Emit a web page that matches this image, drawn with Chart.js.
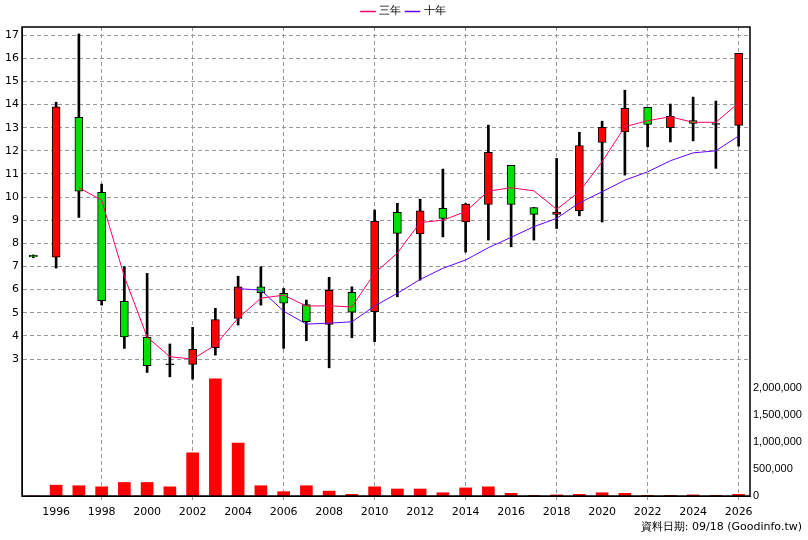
<!DOCTYPE html>
<html><head><meta charset="utf-8">
<script src="https://cdn.jsdelivr.net/npm/chart.js@4/dist/chart.umd.min.js"></script>
<style>
body{margin:0;background:#fff;font-family:"DejaVu Sans",sans-serif}
#wrap{position:relative;width:808px;height:540px}
#foot{position:absolute;right:6px;top:519px;font-size:11px;color:#000}
</style></head><body>
<div id="wrap"><canvas id="c" width="808" height="540"></canvas><div id="foot">資料日期: 09/18 (Goodinfo.tw)</div></div>
<script>
const years = ['1995','1996','1997','1998','1999','2000','2001','2002','2003','2004','2005','2006','2007','2008','2009','2010','2011','2012','2013','2014','2015','2016','2017','2018','2019','2020','2021','2022','2023','2024','2025','2026'];
const openP = [7.48,7.4,13.45,10.2,5.49,3.94,2.75,2.77,3.49,4.76,6.12,5.84,5.35,4.5,5.88,5.05,9.34,8.41,9.51,8.93,9.68,11.37,9.55,9.25,9.41,12.36,12.82,13.88,13.0,13.31,13.14,13.1];
const closeP = [7.42,13.9,10.25,5.52,3.96,2.71,2.75,3.42,4.71,6.12,5.87,5.41,4.61,5.97,5.02,8.95,8.43,9.41,9.08,9.7,11.93,9.68,9.25,9.35,12.23,13.01,13.83,13.14,13.49,13.18,13.14,16.21];
const highP = [7.5,14.1,17.05,10.56,6.99,6.7,3.65,4.37,5.19,6.58,6.99,6.05,5.55,6.53,6.12,9.44,9.73,9.91,11.21,9.72,13.11,11.37,9.55,11.67,12.8,13.28,14.62,13.88,14.02,14.32,14.15,16.21];
const lowP = [7.38,6.93,9.12,5.33,3.46,2.42,2.23,2.13,3.17,4.47,5.33,3.46,3.79,2.62,3.92,3.75,5.69,6.41,8.28,7.62,8.14,7.85,8.14,8.64,9.19,8.92,10.95,12.17,12.38,12.43,11.24,12.2];
const ma3 = [null,null,10.4,9.87,6.56,3.95,3.1,3.0,3.6,4.77,5.63,5.76,5.29,5.3,5.25,6.71,7.58,8.9,9.0,9.37,10.26,10.4,10.27,9.47,10.23,11.53,13.04,13.3,13.47,13.23,13.23,14.07];
const ma10 = [null,null,null,null,null,null,null,null,null,6.04,5.98,5.07,4.51,4.55,4.61,5.29,5.84,6.44,6.92,7.28,7.81,8.26,8.72,9.08,9.75,10.23,10.73,11.09,11.57,11.91,12.0,12.64];
const volume = [0,200000,190000,170000,250000,250000,170000,800000,2170000,980000,190000,80000,190000,90000,30000,170000,130000,130000,60000,150000,170000,50000,10000,20000,30000,60000,50000,10000,10000,20000,10000,30000];
const priceTicks = [3,4,5,6,7,8,9,10,11,12,13,14,15,16,17];
const volTicks = [0,500000,1000000,1500000,2000000];

const candleColor = i => closeP[i] > openP[i] ? '#ff0000' : (closeP[i] < openP[i] ? '#00e000' : '#000');

const frame = {
    id: 'frame',
    afterDraw(chart) {
        const a = chart.chartArea, c = chart.ctx;
        c.save();
        c.strokeStyle = '#000';
        c.lineWidth = 1.5;
        c.strokeRect(a.left, a.top, a.right - a.left, a.bottom - a.top);
        c.restore();
    }
};

Chart.defaults.font.family = '"DejaVu Sans", sans-serif';
Chart.defaults.font.size = 11;
Chart.defaults.color = '#000';

new Chart(document.getElementById('c'), {
    type: 'bar',
    data: {
        labels: years,
        datasets: [
            { type: 'line', label: '三年', data: ma3, borderColor: '#ff0066', borderWidth: 1, pointRadius: 0, yAxisID: 'y', order: 1 },
            { type: 'line', label: '十年', data: ma10, borderColor: '#6600ff', borderWidth: 1, pointRadius: 0, yAxisID: 'y', order: 1 },
            { label: 'body', data: openP.map((o, i) => [o, closeP[i] === o ? o + 0.04 : closeP[i]]),
              backgroundColor: years.map((_, i) => candleColor(i)), borderColor: '#000', borderWidth: 1, borderSkipped: false,
              barThickness: 8, grouped: false, yAxisID: 'y', order: 2 },
            { label: 'wick', data: lowP.map((l, i) => [l, highP[i]]), backgroundColor: '#000',
              barThickness: 2, grouped: false, yAxisID: 'y', order: 3 },
            { label: 'vol', data: volume, backgroundColor: '#ff0000', barThickness: 12, grouped: false, yAxisID: 'v', order: 4 }
        ]
    },
    options: {
        responsive: false,
        animation: false,
        plugins: {
            tooltip: { enabled: false },
            legend: {
                labels: {
                    generateLabels: chart => chart.data.datasets.slice(0, 2).map((d, i) => ({
                        text: d.label, datasetIndex: i, pointStyle: 'line',
                        strokeStyle: d.borderColor, fillStyle: d.borderColor, lineWidth: 1.5, fontColor: '#000'
                    })),
                    usePointStyle: true, boxWidth: 14, padding: 6,
                    font: { size: 11 }
                }
            }
        },
        scales: {
            x: {
                offset: true,
                grid: { offset: false, color: ctx => (ctx.index % 2 === 1 ? '#999' : 'rgba(0,0,0,0)'), tickLength: 4 },
                border: { dash: [4, 3], color: '#000' },
                ticks: { autoSkip: false, maxRotation: 0, padding: 6, callback: (v, i) => (i % 2 === 1 ? years[i] : null) },
                afterFit: s => { s.height = 44; }
            },
            y: {
                position: 'left',
                min: -2.92, max: 17.35,
                afterBuildTicks: s => { s.ticks = priceTicks.map(v => ({ value: v })); },
                grid: { color: '#999', drawTicks: false },
                border: { dash: [4, 3], color: '#000' },
                ticks: { padding: 3 },
                afterFit: s => { s.width = 22; }
            },
            v: {
                position: 'right',
                min: 0, max: 8685000,
                afterBuildTicks: s => { s.ticks = volTicks.map(v => ({ value: v })); },
                grid: { display: false, drawTicks: false },
                ticks: { padding: 3, font: { family: 'Liberation Sans', size: 11 }, callback: v => v.toLocaleString('en-US') },
                afterFit: s => { s.width = 58; }
            }
        }
    },
    plugins: [frame]
});
</script>
</body></html>
